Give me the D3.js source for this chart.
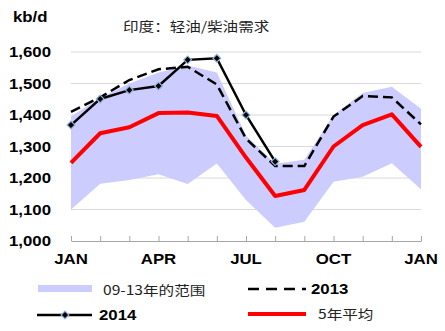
<!DOCTYPE html>
<html>
<head>
<meta charset="utf-8">
<script src="https://cdn.jsdelivr.net/npm/d3@7"></script>
<style>
  html, body { margin: 0; padding: 0; background: #fff; }
  svg { display: block; }
  .lat { font-family: "Liberation Sans", Arial, sans-serif; }
  .cjk { font-family: "Noto Sans CJK SC", "Liberation Sans", sans-serif; }
</style>
</head>
<body>
<svg id="chart" width="445" height="331"></svg>
<script>
// India gasoil/diesel demand, kb/d, monthly (Jan .. following Jan)
const months = ["JAN","FEB","MAR","APR","MAY","JUN","JUL","AUG","SEP","OCT","NOV","DEC","JAN2"];
const tickMonths = ["JAN","APR","JUL","OCT","JAN2"];
const yTicks = [1000, 1100, 1200, 1300, 1400, 1500, 1600];

const rangeLow  = [1100, 1182, 1194, 1212, 1181, 1246, 1130, 1042, 1061, 1188, 1204, 1247, 1164];
const rangeHigh = [1395, 1455, 1500, 1535, 1557, 1535, 1335, 1245, 1258, 1400, 1470, 1490, 1420];
const avg5      = [1248, 1342, 1361, 1406, 1408, 1397, 1265, 1143, 1162, 1300, 1368, 1402, 1299];
const y2013     = [1410, 1456, 1511, 1545, 1553, 1497, 1325, 1238, 1238, 1395, 1460, 1456, 1370];
const y2014     = [1368, 1451, 1479, 1492, 1575, 1580, 1400, 1252];

const legendItems = ["09-13年的范围", "2013", "2014", "5年平均"];
const title = "印度：轻油/柴油需求";
const unit = "kb/d";

const svg = d3.select("#chart");
const x = d3.scalePoint().domain(months).range([71, 421]);
const y = d3.scaleLinear().domain([1000, 1600]).range([241, 52]);
const SX = 1.2; // horizontally widened lettering

function stretchedText(g, px, py, str, anchor) {
  return g.append("text")
    .attr("transform", `translate(${px},${py}) scale(${SX},1)`)
    .attr("text-anchor", anchor || "start")
    .text(str);
}

// gridlines
svg.append("g").selectAll("line")
  .data(yTicks.filter(d => d > 1000))
  .join("line")
  .attr("x1", x("JAN")).attr("x2", x("JAN2"))
  .attr("y1", d => y(d)).attr("y2", d => y(d))
  .attr("stroke", "#d9d9d9").attr("stroke-width", 1);

// 09-13 range band
svg.append("path")
  .datum(months.map((m, i) => ({ m, lo: rangeLow[i], hi: rangeHigh[i] })))
  .attr("fill", "#ccccff")
  .attr("d", d3.area().x(d => x(d.m)).y0(d => y(d.lo)).y1(d => y(d.hi)));

// x axis with upward ticks
const xAxis = svg.append("g")
  .attr("transform", `translate(0,${y(1000)})`)
  .call(d3.axisBottom(x).tickSizeInner(-5).tickSizeOuter(0).tickFormat(""));
xAxis.select(".domain").attr("stroke", "#a6a6a6");
xAxis.selectAll(".tick line").attr("stroke", "#a6a6a6");

// month labels
const xl = svg.append("g").attr("class", "lat")
  .attr("font-size", 14).attr("font-weight", "bold").attr("fill", "#000");
tickMonths.forEach(m => stretchedText(xl, x(m), 264, m.replace("2", ""), "middle"));

// y labels
const yl = svg.append("g").attr("class", "lat")
  .attr("font-size", 14).attr("font-weight", "bold").attr("fill", "#000");
yTicks.forEach(v => stretchedText(yl, 51, y(v) + 5, d3.format(",")(v), "end"));

// unit and title
stretchedText(svg.append("g").attr("class", "lat").attr("font-size", 14)
  .attr("font-weight", "bold"), 13, 22, unit);
stretchedText(svg.append("g").attr("class", "cjk").attr("font-size", 13)
  .attr("fill", "#222"), 123, 31, title);

const line = d3.line().x(d => x(d.m)).y(d => y(d.v));

// 5-year average
svg.append("path")
  .datum(months.map((m, i) => ({ m, v: avg5[i] })))
  .attr("fill", "none").attr("stroke", "#ff0000").attr("stroke-width", 4)
  .attr("stroke-linejoin", "round")
  .attr("d", line);

// 2013
svg.append("path")
  .datum(months.map((m, i) => ({ m, v: y2013[i] })))
  .attr("fill", "none").attr("stroke", "#000").attr("stroke-width", 2.5)
  .attr("stroke-dasharray", "10,5")
  .attr("d", line);

// 2014 with diamond markers (squares turned 45 degrees)
const d14 = y2014.map((v, i) => ({ m: months[i], v }));
svg.append("path")
  .datum(d14)
  .attr("fill", "none").attr("stroke", "#000").attr("stroke-width", 2.5)
  .attr("d", line);
const marker = d3.symbol().type(d3.symbolSquare).size(30);
svg.append("g").selectAll("path")
  .data(d14)
  .join("path")
  .attr("transform", d => `translate(${x(d.m)},${y(d.v)}) rotate(45)`)
  .attr("d", marker)
  .attr("fill", "#000").attr("stroke", "#8fb4dc").attr("stroke-width", 1.2);

// legend
const lg = svg.append("g");
lg.append("rect").attr("x", 38).attr("y", 285).attr("width", 54).attr("height", 7)
  .attr("fill", "#ccccff");
stretchedText(lg.append("g").attr("class", "cjk").attr("font-size", 13).attr("fill", "#222"),
  103, 295, legendItems[0]);

lg.append("line").attr("x1", 248).attr("x2", 306).attr("y1", 289).attr("y2", 289)
  .attr("stroke", "#000").attr("stroke-width", 2.5).attr("stroke-dasharray", "11,7");
stretchedText(lg.append("g").attr("class", "lat").attr("font-size", 14).attr("font-weight", "bold"),
  311, 294, legendItems[1]);

lg.append("line").attr("x1", 37).attr("x2", 92).attr("y1", 315).attr("y2", 315)
  .attr("stroke", "#000").attr("stroke-width", 2.5);
lg.append("path").attr("transform", "translate(65,315) rotate(45)").attr("d", marker)
  .attr("fill", "#000").attr("stroke", "#8fb4dc").attr("stroke-width", 1.2);
stretchedText(lg.append("g").attr("class", "lat").attr("font-size", 14).attr("font-weight", "bold"),
  99, 320, legendItems[2]);

lg.append("line").attr("x1", 248).attr("x2", 306).attr("y1", 314).attr("y2", 314)
  .attr("stroke", "#ff0000").attr("stroke-width", 4);
stretchedText(lg.append("g").attr("class", "cjk").attr("font-size", 13).attr("fill", "#222"),
  318, 319, legendItems[3]);
</script>
</body>
</html>
